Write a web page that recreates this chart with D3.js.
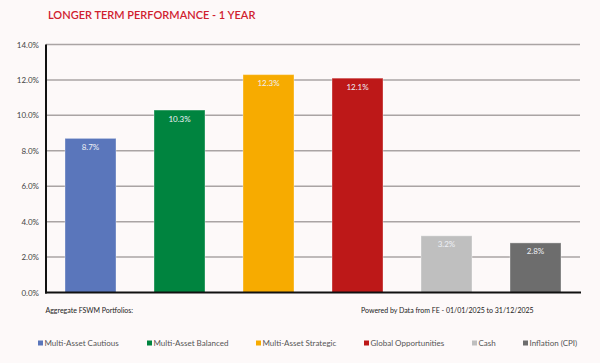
<!DOCTYPE html>
<html><head><meta charset="utf-8">
<script src="https://cdn.jsdelivr.net/npm/d3@7"></script>
<style>
html,body{margin:0;padding:0;background:#fdf9f9;}
svg{display:block;font-family:Lato, "Open Sans", sans-serif;}
</style></head>
<body>
<svg id="chart" width="600" height="363"></svg>
<script>
const categories = ["Multi-Asset Cautious","Multi-Asset Balanced","Multi-Asset Strategic","Global Opportunities","Cash","Inflation (CPI)"];
const values = [8.7, 10.3, 12.3, 12.1, 3.2, 2.8];
const colors = ["#5a76bb","#00843f","#f7ab00","#bd1818","#bfbfbf","#6d6d6d"];
const yTicks = [0, 2, 4, 6, 8, 10, 12, 14];
const title = "LONGER TERM PERFORMANCE - 1 YEAR";
const noteLeft = "Aggregate FSWM Portfolios:";
const noteRight = "Powered by Data from FE - 01/01/2025 to 31/12/2025";
const legendX = [38, 147, 256, 364, 472, 523];

const svg = d3.select("#chart");
svg.append("rect").attr("width",600).attr("height",363).attr("fill","#fdf9f9");

const x = d3.scaleBand().domain(categories).range([46, 580]).paddingInner(0.427).paddingOuter(0.2135);
const y = d3.scaleLinear().domain([0, 14]).range([292.5, 44.5]);

svg.append("text").attr("x",48).attr("y",18.5).attr("fill","#d0202e")
  .attr("font-size",11).attr("font-weight",600).text(title);

// gridlines
svg.append("g").selectAll("line").data(yTicks.filter(d=>d>0)).join("line")
  .attr("x1",46).attr("x2",580).attr("y1",d=>y(d)).attr("y2",d=>y(d))
  .attr("stroke","#aaa4a4").attr("stroke-width",1.5);

// y axis labels
const yAxis = d3.axisLeft(y).tickValues(yTicks).tickFormat(d=>d.toFixed(1)+"%").tickSize(0).tickPadding(7);
const ga = svg.append("g").attr("transform","translate(46,0)").call(yAxis);
ga.select(".domain").remove();
ga.selectAll("text").attr("font-size",8).attr("fill","#444").attr("font-family","Lato, sans-serif");

// bars
svg.append("g").selectAll("rect").data(values).join("rect")
  .attr("x",(d,i)=>x(categories[i])).attr("width",x.bandwidth())
  .attr("y",d=>y(d)).attr("height",d=>y(0)-y(d))
  .attr("fill",(d,i)=>colors[i])
  .attr("stroke","rgba(255,255,255,0.35)").attr("stroke-width",1);

svg.append("g").selectAll("text").data(values).join("text")
  .attr("x",(d,i)=>x(categories[i])+x.bandwidth()/2).attr("y",d=>y(d)+11.5)
  .attr("text-anchor","middle").attr("font-size",8).attr("fill","#eef0f6")
  .text(d=>d.toFixed(1)+"%");

// axes lines
svg.append("line").attr("x1",46).attr("x2",46).attr("y1",y(14)).attr("y2",y(0)+1).attr("stroke","#111").attr("stroke-width",2);
svg.append("line").attr("x1",45).attr("x2",581).attr("y1",y(0)).attr("y2",y(0)).attr("stroke","#111").attr("stroke-width",2);

// notes
svg.append("text").attr("x",45.5).attr("y",312.5).attr("font-size",7).attr("fill","#222").text(noteLeft);
svg.append("text").attr("x",361).attr("y",312.5).attr("font-size",7).attr("fill","#222").text(noteRight);

// legend
const lg = svg.append("g").selectAll("g").data(categories).join("g")
  .attr("transform",(d,i)=>`translate(${legendX[i]},343)`);
lg.append("rect").attr("x",0).attr("y",-2.5).attr("width",5).attr("height",5).attr("fill",(d,i)=>colors[i]);
lg.append("text").attr("x",6.5).attr("y",3).attr("font-size",8).attr("fill","#555").text(d=>d);
</script>
</body></html>
